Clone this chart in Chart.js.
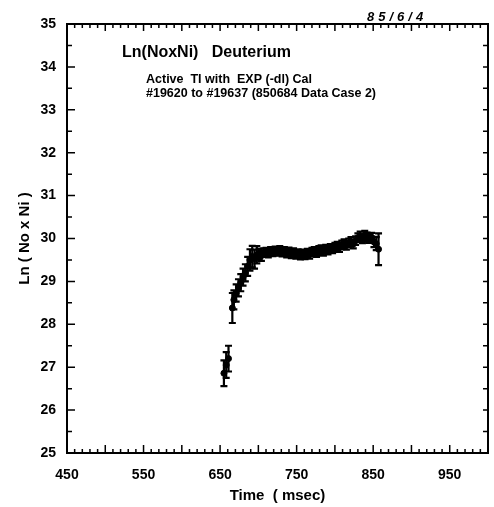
<!DOCTYPE html>
<html>
<head>
<meta charset="utf-8">
<script src="https://cdn.jsdelivr.net/npm/chart.js@4/dist/chart.umd.min.js"></script>
<style>
html,body{margin:0;padding:0;background:#fff;}
canvas{display:block;}
</style>
</head>
<body>
<canvas id="c" width="494" height="507"></canvas>
<script>
// ---- data ----
const timeMs = [655,658,661,666,668,671,674,677,680,683,686,689,692,695,698,701,704,707,710,713,716,719,722,725,728,731,734,737,740,743,746,749,752,755,758,761,764,767,770,773,776,779,782,785,788,791,794,797,800,803,806,809,812,815,818,821,824,827,830,833,836,839,842,845,848,851,854,857];
const lnNoNi = [26.86,27.05,27.2,28.38,28.57,28.73,28.85,28.97,29.1,29.2,29.35,29.5,29.58,29.52,29.62,29.64,29.6,29.67,29.68,29.66,29.7,29.69,29.71,29.7,29.72,29.68,29.7,29.66,29.69,29.64,29.67,29.63,29.65,29.61,29.64,29.62,29.66,29.63,29.68,29.7,29.67,29.72,29.74,29.7,29.75,29.73,29.77,29.76,29.8,29.82,29.79,29.85,29.88,29.84,29.9,29.93,29.87,29.95,30.02,30.06,29.99,30.08,30.04,30.0,30.03,29.92,29.88,29.75];
const errLn = [0.3,0.3,0.3,0.35,0.22,0.2,0.2,0.2,0.2,0.2,0.22,0.25,0.25,0.22,0.2,0.12,0.12,0.1,0.1,0.1,0.1,0.1,0.1,0.1,0.1,0.1,0.1,0.1,0.1,0.1,0.1,0.1,0.1,0.1,0.1,0.1,0.1,0.1,0.1,0.1,0.1,0.1,0.1,0.1,0.1,0.1,0.1,0.1,0.1,0.1,0.1,0.1,0.1,0.1,0.1,0.1,0.1,0.1,0.1,0.1,0.1,0.1,0.1,0.1,0.1,0.12,0.15,0.37];
const xTickLabels = [450,550,650,750,850,950];
const yTickLabels = [25,26,27,28,29,30,31,32,33,34,35];
const headerLines = ["Ln(NoxNi)   Deuterium","Active  TI with  EXP (-dl) Cal","#19620 to #19637 (850684 Data Case 2)"];
const dateStamp = "85/6/4";
const xTitle = "Time  ( msec)";
const yTitle = "Ln ( No x Ni )";

const points = timeMs.map((t,i)=>({x:t,y:lnNoNi[i]}));
const FONT = "'Liberation Sans', Arial, sans-serif";

const errorBars = {
  id:'errorBars',
  afterDatasetsDraw(chart){
    const {ctx, scales:{x,y}} = chart;
    ctx.save();
    ctx.strokeStyle='#000'; ctx.lineWidth=2.2;
    timeMs.forEach((t,i)=>{
      const px=x.getPixelForValue(t);
      const y1=y.getPixelForValue(lnNoNi[i]-errLn[i]);
      const y2=y.getPixelForValue(lnNoNi[i]+errLn[i]);
      ctx.beginPath();
      ctx.moveTo(px,y1); ctx.lineTo(px,y2);
      ctx.moveTo(px-3.5,y1); ctx.lineTo(px+3.5,y1);
      ctx.moveTo(px-3.5,y2); ctx.lineTo(px+3.5,y2);
      ctx.stroke();
    });
    ctx.restore();
  }
};

const frame = {
  id:'frame',
  afterDraw(chart){
    const {ctx, chartArea:a, scales:{x,y}} = chart;
    ctx.save();
    ctx.strokeStyle='#000'; ctx.lineWidth=2;
    ctx.strokeRect(a.left,a.top,a.right-a.left,a.bottom-a.top);
    ctx.lineWidth=1.5;
    ctx.beginPath();
    x.ticks.forEach(tk=>{
      const px=x.getPixelForValue(tk.value);
      const L = (tk.value%50===0)?8:4;
      ctx.moveTo(px,a.bottom); ctx.lineTo(px,a.bottom-L);
      ctx.moveTo(px,a.top); ctx.lineTo(px,a.top+(tk.value%50===0?7:4));
    });
    y.ticks.forEach(tk=>{
      const py=y.getPixelForValue(tk.value);
      const major = Math.abs(tk.value-Math.round(tk.value))<1e-6;
      ctx.moveTo(a.left,py); ctx.lineTo(a.left+(major?8:5),py);
      ctx.moveTo(a.right,py); ctx.lineTo(a.right-5,py);
    });
    ctx.stroke();
    // annotations
    ctx.fillStyle='#000';
    ctx.textBaseline='alphabetic';
    ctx.font="bold 16px "+FONT;
    ctx.fillText(headerLines[0],122,57);
    ctx.font="bold 12.5px "+FONT;
    ctx.fillText(headerLines[1],146,83);
    ctx.fillText(headerLines[2],146,97);
    ctx.font="bold italic 13px "+FONT;
    try{ctx.letterSpacing='4px';}catch(e){}
    ctx.fillText(dateStamp,367,21);
    ctx.restore();
  }
};

new Chart(document.getElementById('c'),{
  type:'scatter',
  data:{datasets:[{
    data:points,
    backgroundColor:'#000',
    borderColor:'#000',
    pointRadius:3,
    pointStyle:'circle',
    showLine:false
  }]},
  options:{
    responsive:false,
    animation:false,
    events:[],
    layout:{padding:{top:24,right:5,left:0,bottom:0}},
    plugins:{legend:{display:false},tooltip:{enabled:false}},
    scales:{
      x:{
        type:'linear',min:450,max:1000,
        afterFit(s){s.height=54;},
        grid:{display:false},
        border:{display:true,color:'#000',width:2},
        ticks:{
          stepSize:10,autoSkip:false,maxRotation:0,padding:6,color:'#000',
          font:{family:FONT,size:14,weight:'bold'},
          callback:(v)=> xTickLabels.includes(v)?String(v):''
        },
        title:{display:true,text:xTitle,color:'#000',font:{family:FONT,size:15,weight:'bold'},padding:{top:0,bottom:2}}
      },
      y:{
        type:'linear',min:25,max:35,
        afterFit(s){s.width=67;},
        grid:{display:false},
        border:{display:true,color:'#000',width:2},
        ticks:{
          stepSize:0.5,autoSkip:false,padding:3,color:'#000',
          font:{family:FONT,size:14,weight:'bold'},
          callback:(v)=> yTickLabels.includes(v)?String(v):''
        },
        title:{display:true,text:yTitle,color:'#000',font:{family:FONT,size:15,weight:'bold'},padding:{top:16,bottom:0}}
      }
    }
  },
  plugins:[errorBars,frame]
});
</script>
</body>
</html>
